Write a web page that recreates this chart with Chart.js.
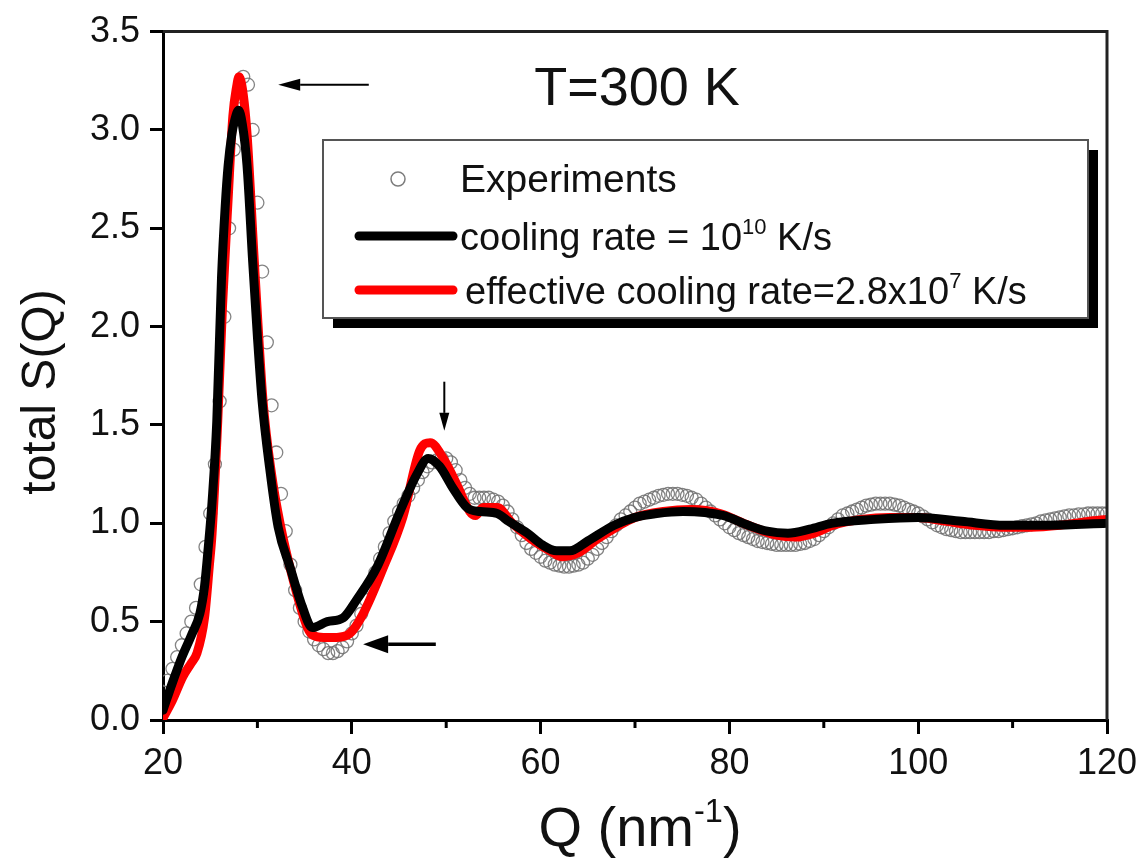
<!DOCTYPE html>
<html>
<head>
<meta charset="utf-8">
<script src="https://cdn.jsdelivr.net/npm/chart.js@4.4.0/dist/chart.umd.min.js"></script>
<style>
  html, body { margin: 0; padding: 0; background: #fff; }
  #wrap { width: 1148px; height: 858px; }
</style>
</head>
<body>
<div id="wrap"><canvas id="grafica" width="1148" height="858"></canvas></div>
<script>
// Datos
const ejeX = { min: 20, max: 120, paso: 20 };
const ejeY = { min: 0, max: 3.5, paso: 0.5 };
const ticksMenoresX = [30, 50, 70, 90, 110];

// Experimentos: Q desde 20 hasta 120 cada 0.5
const expInicio = 20;
const expPaso = 0.5;
const expS = [
  0.14, 0.20, 0.26, 0.32, 0.38, 0.44, 0.50, 0.57, 0.69, 0.88,
  1.05, 1.30, 1.62, 2.05, 2.50, 2.90, 3.17, 3.27, 3.23, 3.00,
  2.63, 2.28, 1.92, 1.60, 1.36, 1.15, 0.96, 0.79, 0.66, 0.57,
  0.50, 0.45, 0.41, 0.38, 0.36, 0.34, 0.34, 0.35, 0.37, 0.40,
  0.44, 0.48, 0.54, 0.61, 0.68, 0.75, 0.82, 0.88, 0.95, 1.01,
  1.06, 1.10, 1.14, 1.18, 1.22, 1.26, 1.29, 1.31, 1.32, 1.33,
  1.33, 1.31, 1.27, 1.22, 1.18, 1.15, 1.13, 1.13, 1.13, 1.13,
  1.12, 1.11, 1.09, 1.06, 1.02, 0.98, 0.94, 0.90, 0.87, 0.85,
  0.83, 0.81, 0.80, 0.79, 0.785, 0.78, 0.78, 0.785, 0.79, 0.80,
  0.82, 0.84, 0.87, 0.90, 0.93, 0.96, 0.99, 1.02, 1.04, 1.06,
  1.08, 1.10, 1.11, 1.12, 1.13, 1.14, 1.145, 1.15, 1.15, 1.15,
  1.145, 1.14, 1.13, 1.12, 1.10, 1.08, 1.06, 1.04, 1.02, 1.00,
  0.98, 0.965, 0.95, 0.94, 0.93, 0.92, 0.91, 0.905, 0.90, 0.895,
  0.89, 0.89, 0.89, 0.89, 0.89, 0.895, 0.90, 0.91, 0.92, 0.94,
  0.96, 0.98, 1.00, 1.02, 1.04, 1.05, 1.06, 1.07, 1.08, 1.09,
  1.095, 1.10, 1.10, 1.10, 1.10, 1.095, 1.09, 1.08, 1.07, 1.06,
  1.05, 1.035, 1.02, 1.005, 0.99, 0.98, 0.97, 0.965, 0.96, 0.955,
  0.955, 0.955, 0.955, 0.955, 0.955, 0.955, 0.96, 0.96, 0.965, 0.97,
  0.975, 0.98, 0.985, 0.99, 0.995, 1.00, 1.01, 1.015, 1.02, 1.025,
  1.03, 1.035, 1.04, 1.04, 1.045, 1.045, 1.05, 1.05, 1.05, 1.05,
  1.05
];

// cooling rate = 10^10 K/s (línea negra)
const negroQ = [20, 21, 22, 23, 23.9, 24.4, 24.8, 25.2, 25.7, 26.2,
  26.6, 26.9, 27.3, 27.6, 28.0, 28.4, 28.9, 29.5, 30.0, 30.5,
  31.3, 32.2, 33.5, 34.8, 35.8, 37.4, 39.1, 40.5, 42.7, 45.1,
  46.9, 48.1, 49.3, 50.7, 52.2, 53.6, 55.4, 56.6, 58.6, 60.2,
  61.7, 63.1, 65, 67.8, 70, 72.3, 75.1, 79.3, 82, 84,
  86.2, 88.5, 90.8, 95.4, 100, 104.6, 109.2, 113.9, 120];
const negroS = [0.05, 0.19, 0.32, 0.43, 0.54, 0.68, 0.88, 1.11, 1.52, 2.25,
  2.62, 2.82, 2.98, 3.05, 3.10, 3.03, 2.82, 2.33, 1.95, 1.62,
  1.28, 0.98, 0.77, 0.57, 0.47, 0.50, 0.52, 0.61, 0.78, 1.06,
  1.25, 1.33, 1.29, 1.18, 1.08, 1.06, 1.05, 1.01, 0.95, 0.89,
  0.86, 0.86, 0.91, 0.99, 1.03, 1.05, 1.06, 1.04, 0.99, 0.96,
  0.95, 0.97, 1.00, 1.02, 1.03, 1.01, 0.99, 0.99, 1.00];

// effective cooling rate = 2.8x10^7 K/s (línea roja)
const rojoQ = [20, 21, 22.1, 23, 23.6, 24.4, 24.9, 25.2, 25.8, 26.3,
  26.9, 27.4, 27.8, 28.05, 28.5, 28.9, 29.7, 30.6, 31.5, 32.4,
  33.8, 35.3, 35.9, 37, 38.4, 39.8, 41.2, 43.3, 45.4, 47.2,
  48.3, 49.7, 51.1, 52.5, 53.1, 53.9, 55.4, 57, 59, 61,
  62.3, 64, 66, 68, 70, 73, 76, 79, 82, 85,
  87, 89, 91, 94, 97, 100, 103, 106, 109, 112,
  115, 118, 120];
const rojoS = [0.01, 0.10, 0.22, 0.29, 0.34, 0.52, 0.78, 0.95, 1.52, 2.10,
  2.65, 3.07, 3.22, 3.27, 3.18, 2.98, 2.31, 1.62, 1.25, 1.00,
  0.71, 0.47, 0.43, 0.42, 0.42, 0.44, 0.54, 0.77, 1.03, 1.37,
  1.41, 1.33, 1.20, 1.06, 1.04, 1.08, 1.08, 1.00, 0.92, 0.86,
  0.83, 0.85, 0.92, 0.98, 1.03, 1.06, 1.07, 1.05, 0.99, 0.94,
  0.93, 0.95, 0.99, 1.02, 1.03, 1.03, 1.01, 0.99, 0.98, 0.98,
  0.99, 1.01, 1.02];

// Flechas en coordenadas de datos: [Qcola, Scola, Qpunta, Spunta]
const flechaPico = [41.8, 3.23, 32.2, 3.23];
const flechaSegundo = [49.8, 1.72, 49.8, 1.47];
const flechaMinimo = [48.9, 0.385, 41.2, 0.385];

const fuente = "'Liberation Sans', Arial, Helvetica, sans-serif";

// Armar los puntos
const puntosExp = expS.map((s, i) => ({ x: expInicio + i * expPaso, y: s }));
const puntosNegro = negroQ.map((q, i) => ({ x: q, y: negroS[i] }));
const puntosRojo = rojoQ.map((q, i) => ({ x: q, y: rojoS[i] }));

// Dibuja una flecha con punta triangular
function flecha(ctx, x1, y1, x2, y2, grosor, largo, ancho) {
  const ang = Math.atan2(y2 - y1, x2 - x1);
  const bx = x2 - Math.cos(ang) * largo;
  const by = y2 - Math.sin(ang) * largo;
  ctx.strokeStyle = '#000';
  ctx.fillStyle = '#000';
  ctx.lineWidth = grosor;
  ctx.beginPath();
  ctx.moveTo(x1, y1);
  ctx.lineTo(bx, by);
  ctx.stroke();
  ctx.beginPath();
  ctx.moveTo(x2, y2);
  ctx.lineTo(bx - Math.sin(ang) * ancho, by + Math.cos(ang) * ancho);
  ctx.lineTo(bx + Math.sin(ang) * ancho, by - Math.cos(ang) * ancho);
  ctx.closePath();
  ctx.fill();
}

// Texto con superíndice: partes = [[texto, esSup], ...]
function textoSup(ctx, partes, x, y, tam, alinear) {
  const anchos = partes.map(p => {
    ctx.font = (p[1] ? tam * 0.58 : tam) + 'px ' + fuente;
    return ctx.measureText(p[0]).width;
  });
  const total = anchos.reduce((a, b) => a + b, 0);
  let cx = alinear === 'center' ? x - total / 2 : x;
  ctx.textAlign = 'left';
  ctx.textBaseline = 'alphabetic';
  partes.forEach((p, i) => {
    ctx.font = (p[1] ? tam * 0.58 : tam) + 'px ' + fuente;
    ctx.fillText(p[0], cx, p[1] ? y - tam * 0.42 : y);
    cx += anchos[i];
  });
}

const decoraciones = {
  id: 'decoraciones',
  afterDraw(chart) {
    const ctx = chart.ctx;
    const sx = chart.scales.x, sy = chart.scales.y;
    const area = chart.chartArea;
    ctx.save();

    // Marco superior y derecho
    ctx.strokeStyle = '#222';
    ctx.lineWidth = 3;
    ctx.beginPath();
    ctx.moveTo(area.left, area.top);
    ctx.lineTo(area.right, area.top);
    ctx.lineTo(area.right, area.bottom);
    ctx.stroke();

    // Ticks menores del eje X
    ctx.strokeStyle = '#000';
    ctx.lineWidth = 3;
    ticksMenoresX.forEach(v => {
      const px = sx.getPixelForValue(v);
      ctx.beginPath();
      ctx.moveTo(px, area.bottom);
      ctx.lineTo(px, area.bottom + 8);
      ctx.stroke();
    });

    // Flechas
    [[flechaPico, 2, 22, 6], [flechaSegundo, 2, 18, 5], [flechaMinimo, 3.5, 25, 9]].forEach(f => {
      const d = f[0];
      flecha(ctx, sx.getPixelForValue(d[0]), sy.getPixelForValue(d[1]),
        sx.getPixelForValue(d[2]), sy.getPixelForValue(d[3]), f[1], f[2], f[3]);
    });

    // Titulo dentro del gráfico
    ctx.fillStyle = '#111';
    ctx.font = '54px ' + fuente;
    ctx.textAlign = 'center';
    ctx.textBaseline = 'alphabetic';
    ctx.fillText('T=300 K', 637, 105);

    // Leyenda con sombra
    ctx.fillStyle = '#000';
    ctx.fillRect(333, 150, 765, 178);
    ctx.fillStyle = '#fff';
    ctx.fillRect(323, 140, 765, 178);
    ctx.strokeStyle = '#555';
    ctx.lineWidth = 2;
    ctx.strokeRect(323, 140, 765, 178);

    ctx.strokeStyle = 'rgba(110,110,110,0.9)';
    ctx.lineWidth = 1.5;
    ctx.beginPath();
    ctx.arc(398, 179, 7, 0, Math.PI * 2);
    ctx.stroke();

    ctx.lineCap = 'round';
    ctx.lineWidth = 9;
    ctx.strokeStyle = '#000';
    ctx.beginPath(); ctx.moveTo(359, 236); ctx.lineTo(453, 236); ctx.stroke();
    ctx.strokeStyle = '#ff0000';
    ctx.beginPath(); ctx.moveTo(359, 290); ctx.lineTo(453, 290); ctx.stroke();

    ctx.fillStyle = '#111';
    textoSup(ctx, [['Experiments', false]], 460, 192, 39, 'left');
    textoSup(ctx, [['cooling rate = 10', false], ['10', true], [' K/s', false]], 460, 250, 38, 'left');
    textoSup(ctx, [['effective cooling rate=2.8x10', false], ['7', true], [' K/s', false]], 465, 304, 38, 'left');

    // Títulos de los ejes
    textoSup(ctx, [['Q (nm', false], ['-1', true], [')', false]], 640, 846, 56, 'center');
    ctx.save();
    ctx.translate(42, 392);
    ctx.rotate(-Math.PI / 2);
    ctx.font = '48px ' + fuente;
    ctx.textAlign = 'center';
    ctx.textBaseline = 'middle';
    ctx.fillText('total S(Q)', 0, 0);
    ctx.restore();

    ctx.restore();
  }
};

const ctx = document.getElementById('grafica').getContext('2d');
new Chart(ctx, {
  type: 'scatter',
  data: {
    datasets: [
      {
        label: 'cooling rate = 10^10 K/s',
        data: puntosNegro,
        showLine: true,
        borderColor: '#000',
        borderWidth: 9,
        pointRadius: 0,
        cubicInterpolationMode: 'monotone',
        borderJoinStyle: 'round',
        borderCapStyle: 'round',
        order: 0
      },
      {
        label: 'effective cooling rate=2.8x10^7 K/s',
        data: puntosRojo,
        showLine: true,
        borderColor: '#ff0000',
        borderWidth: 9,
        pointRadius: 0,
        cubicInterpolationMode: 'monotone',
        borderJoinStyle: 'round',
        borderCapStyle: 'round',
        order: 1
      },
      {
        label: 'Experiments',
        data: puntosExp,
        showLine: false,
        pointStyle: 'circle',
        pointRadius: 6.5,
        pointBorderWidth: 1.3,
        pointBorderColor: 'rgba(110,110,110,0.85)',
        pointBackgroundColor: 'rgba(255,255,255,0)',
        order: 2
      }
    ]
  },
  options: {
    responsive: false,
    animation: false,
    devicePixelRatio: 1,
    layout: { padding: { top: 28, right: 41, left: 0, bottom: 0 } },
    plugins: {
      legend: { display: false },
      tooltip: { enabled: false }
    },
    scales: {
      x: {
        type: 'linear',
        min: ejeX.min,
        max: ejeX.max,
        afterFit: s => { s.height = 138; },
        ticks: {
          stepSize: ejeX.paso,
          padding: 8,
          color: '#111',
          font: { family: fuente, size: 36 }
        },
        grid: { drawOnChartArea: false, tickLength: 14, lineWidth: 3, color: '#000' },
        border: { display: true, width: 3, color: '#000' }
      },
      y: {
        min: ejeY.min,
        max: ejeY.max,
        afterFit: s => { s.width = 163; },
        ticks: {
          stepSize: ejeY.paso,
          padding: 10,
          color: '#111',
          font: { family: fuente, size: 36 },
          callback: v => v.toFixed(1)
        },
        grid: { drawOnChartArea: false, tickLength: 13, lineWidth: 3, color: '#000' },
        border: { display: true, width: 3, color: '#000' }
      }
    }
  },
  plugins: [decoraciones]
});
</script>
</body>
</html>
